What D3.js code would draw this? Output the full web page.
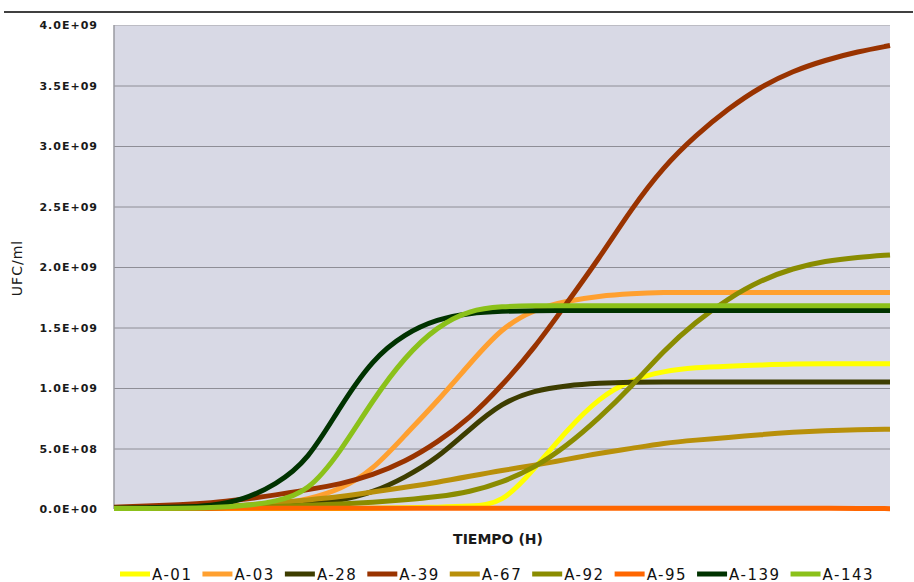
<!DOCTYPE html>
<html>
<head>
<meta charset="utf-8">
<script src="https://cdn.jsdelivr.net/npm/d3@7"></script>
<style>
  html, body { margin: 0; padding: 0; background: #ffffff; }
  svg { display: block; }
</style>
</head>
<body>
<svg id="chart" width="914" height="582"></svg>
<script>
// ---- data ----
const hours = [0, 2, 4, 6, 8, 10, 12, 14, 16, 18, 20, 22, 24, 26, 28, 30, 32, 34, 36, 38, 40, 42, 44, 46, 48];
const seriesNames = ["A-01", "A-03", "A-28", "A-39", "A-67", "A-92", "A-95", "A-139", "A-143"];
const seriesColors = ["#ffff00", "#ffa030", "#3d3d00", "#993300", "#b8900a", "#8a8c00", "#ff6600", "#003300", "#8bc11a"];

const a01  = [5e6, 5e6, 5e6, 5e6, 5e6, 5e6, 5e6, 5e6, 6e6, 1e7, 1.5e7, 2.2e7, 4e7, 3.3e8, 6.5e8, 9.2e8, 1.07e9, 1.14e9, 1.17e9, 1.18e9, 1.19e9, 1.2e9, 1.2e9, 1.2e9, 1.2e9];
const a03  = [5e6, 5e6, 6e6, 8e6, 1.2e7, 3e7, 8e7, 1.6e8, 3.2e8, 6.1e8, 8.9e8, 1.2e9, 1.5e9, 1.65e9, 1.72e9, 1.76e9, 1.78e9, 1.79e9, 1.79e9, 1.79e9, 1.79e9, 1.79e9, 1.79e9, 1.79e9, 1.79e9];
const a28  = [5e6, 5e6, 6e6, 8e6, 1.5e7, 2.5e7, 4e7, 7e7, 1.35e8, 2.6e8, 4.2e8, 6.6e8, 8.8e8, 9.8e8, 1.02e9, 1.04e9, 1.05e9, 1.05e9, 1.05e9, 1.05e9, 1.05e9, 1.05e9, 1.05e9, 1.05e9, 1.05e9];
const a39  = [1.5e7, 2.5e7, 3.5e7, 5e7, 8e7, 1.15e8, 1.6e8, 2.05e8, 2.8e8, 3.9e8, 5.5e8, 7.5e8, 1.02e9, 1.33e9, 1.7e9, 2.07e9, 2.48e9, 2.83e9, 3.09e9, 3.31e9, 3.49e9, 3.62e9, 3.71e9, 3.78e9, 3.83e9];
const a67  = [8e6, 9e6, 1e7, 1.5e7, 3e7, 5e7, 7.5e7, 1e8, 1.4e8, 1.8e8, 2.2e8, 2.7e8, 3.2e8, 3.6e8, 4.1e8, 4.6e8, 5e8, 5.45e8, 5.7e8, 5.9e8, 6.15e8, 6.35e8, 6.48e8, 6.55e8, 6.6e8];
const a92  = [5e6, 6e6, 8e6, 1e7, 1.5e7, 2e7, 3e7, 4e7, 5.5e7, 7.5e7, 1e8, 1.4e8, 2.2e8, 3.4e8, 5.2e8, 7.5e8, 1.01e9, 1.31e9, 1.55e9, 1.74e9, 1.89e9, 1.99e9, 2.05e9, 2.08e9, 2.1e9];
const a95  = [6e6, 6e6, 6e6, 6e6, 6e6, 6e6, 6e6, 6e6, 6e6, 6e6, 6e6, 6e6, 6e6, 6e6, 6e6, 6e6, 6e6, 6e6, 6e6, 6e6, 6e6, 6e6, 6e6, 5e6, 3e6];
const a139 = [8e6, 1e7, 1.5e7, 2.5e7, 7.5e7, 2e8, 4e8, 8.5e8, 1.24e9, 1.45e9, 1.57e9, 1.62e9, 1.635e9, 1.64e9, 1.64e9, 1.64e9, 1.64e9, 1.64e9, 1.64e9, 1.64e9, 1.64e9, 1.64e9, 1.64e9, 1.64e9, 1.64e9];
const a143 = [5e6, 5e6, 6e6, 1e7, 2.5e7, 6e7, 1.4e8, 4.7e8, 9e8, 1.26e9, 1.51e9, 1.645e9, 1.675e9, 1.68e9, 1.68e9, 1.68e9, 1.68e9, 1.68e9, 1.68e9, 1.68e9, 1.68e9, 1.68e9, 1.68e9, 1.68e9, 1.68e9];
const seriesValues = [a01, a03, a28, a39, a67, a92, a95, a139, a143];

const yTicks = [0, 5e8, 1e9, 1.5e9, 2e9, 2.5e9, 3e9, 3.5e9, 4e9];
const yTickLabels = ["0.0E+00", "5.0E+08", "1.0E+09", "1.5E+09", "2.0E+09", "2.5E+09", "3.0E+09", "3.5E+09", "4.0E+09"];
const yTitle = "UFC/ml";
const xTitle = "TIEMPO (H)";

// ---- layout ----
const W = 914, H = 582;
const margin = { top: 25, right: 24, bottom: 73, left: 114 };
const svg = d3.select("#chart");

const x = d3.scaleLinear().domain([0, 48]).range([margin.left, W - margin.right]);
const y = d3.scaleLinear().domain([0, 4e9]).range([H - margin.bottom, margin.top]);

// top rule
svg.append("line")
  .attr("x1", 4).attr("x2", 913).attr("y1", 12).attr("y2", 12)
  .attr("stroke", "#000").attr("stroke-width", 1.5);

// plot background
svg.append("rect")
  .attr("x", x(0)).attr("y", y(4e9))
  .attr("width", x(48) - x(0)).attr("height", y(0) - y(4e9))
  .attr("fill", "#d8d9e5");

// grid lines
const grid = d3.axisLeft(y).tickValues(yTicks).tickSize(-(x(48) - x(0))).tickFormat("");
svg.append("g")
  .attr("transform", `translate(${x(0)},0)`)
  .call(grid)
  .call(g => g.select(".domain").remove())
  .call(g => g.selectAll(".tick line")
    .attr("stroke", d => d === 4e9 ? "#bcbcc4" : "#8e8e96")
    .attr("stroke-width", 1));

// left axis line
svg.append("line")
  .attr("x1", x(0)).attr("x2", x(0)).attr("y1", y(4e9)).attr("y2", y(0))
  .attr("stroke", "#9a9aa0").attr("stroke-width", 1.5);

// y tick labels
const yAxis = d3.axisLeft(y).tickValues(yTicks).tickSize(0).tickPadding(16)
  .tickFormat((d, i) => yTickLabels[i]);
svg.append("g")
  .attr("transform", `translate(${x(0)},0)`)
  .call(yAxis)
  .call(g => g.select(".domain").remove())
  .call(g => g.selectAll("text")
    .attr("font-family", "DejaVu Sans, sans-serif")
    .attr("font-weight", "bold")
    .attr("font-size", "11px")
    .attr("letter-spacing", "1px")
    .attr("fill", "#1a1a1a"));

// lines
const line = d3.line()
  .x((d, i) => x(hours[i]))
  .y(d => y(d))
  .curve(d3.curveBasis);

svg.append("g")
  .selectAll("path")
  .data(seriesValues)
  .join("path")
  .attr("d", d => line(d))
  .attr("fill", "none")
  .attr("stroke", (d, i) => seriesColors[i])
  .attr("stroke-width", 5)
  .attr("stroke-linejoin", "round")
  .attr("stroke-linecap", "butt");

// axis titles
svg.append("text")
  .attr("transform", `translate(22,268) rotate(-90)`)
  .attr("text-anchor", "middle")
  .attr("font-family", "DejaVu Sans, sans-serif")
  .attr("font-size", "14px")
  .attr("letter-spacing", "1px")
  .attr("fill", "#1a1a1a")
  .text(yTitle);

svg.append("text")
  .attr("x", 498).attr("y", 544)
  .attr("text-anchor", "middle")
  .attr("font-family", "DejaVu Sans, sans-serif")
  .attr("font-weight", "bold")
  .attr("font-size", "14px")
  .attr("fill", "#1a1a1a")
  .text(xTitle);

// legend
const legend = svg.append("g");
let lx = 120;
const ly = 574;
seriesNames.forEach((name, i) => {
  legend.append("line")
    .attr("x1", lx).attr("x2", lx + 30).attr("y1", ly).attr("y2", ly)
    .attr("stroke", seriesColors[i]).attr("stroke-width", 5);
  const t = legend.append("text")
    .attr("x", lx + 32).attr("y", ly + 5.5)
    .attr("font-family", "DejaVu Sans, sans-serif")
    .attr("font-size", "15px")
    .attr("letter-spacing", "1.5px")
    .attr("fill", "#111")
    .text(name);
  lx += 32 + t.node().getComputedTextLength() + 10;
});
</script>
</body>
</html>
